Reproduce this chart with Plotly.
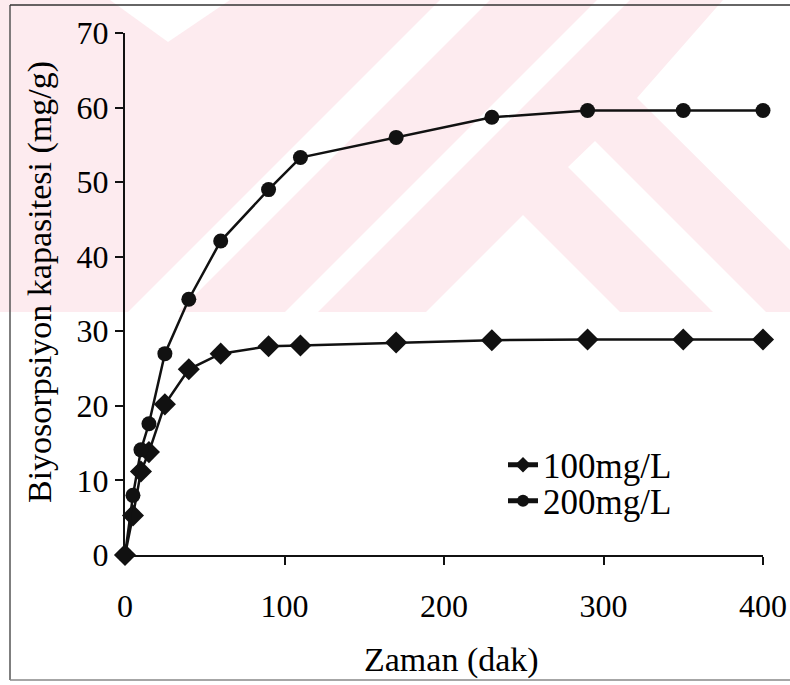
import plotly.graph_objects as go

# ---- data ----
time_min = [0, 5, 10, 15, 25, 40, 60, 90, 110, 170, 230, 290, 350, 400]
cap_100 = [0, 5.3, 11.2, 13.8, 20.2, 24.9, 27.0, 28.0, 28.1, 28.5, 28.8, 28.9, 28.9, 28.9]
cap_200 = [0, 8.0, 14.1, 17.6, 27.0, 34.3, 42.1, 49.0, 53.3, 56.0, 58.7, 59.6, 59.6, 59.6]
series_names = ["100mg/L", "200mg/L"]
x_ticks = [0, 100, 200, 300, 400]
y_ticks = [0, 10, 20, 30, 40, 50, 60, 70]
x_title = "Zaman (dak)"
y_title = "Biyosorpsiyon kapasitesi (mg/g)"

W, H = 790, 685
PLOT_L, PLOT_R, PLOT_T, PLOT_B = 125, 763, 33, 555
ML, MT = PLOT_L, PLOT_T
PW, PH = PLOT_R - PLOT_L, PLOT_B - PLOT_T
MR, MB = W - ML - PW, H - MT - PH
FONT = "Liberation Serif"
INK = "#111111"


def px(x):
    return (x - PLOT_L) / PW


def py(y):
    return (PLOT_B - y) / PH


def poly(pts, color):
    d = "M " + " L ".join(f"{px(a):.4f},{py(b):.4f}" for a, b in pts) + " Z"
    return dict(type="path", xref="paper", yref="paper", path=d,
                fillcolor=color, line=dict(width=0), layer="below")


def frame_line(x0, y0, x1, y1, color):
    return dict(type="line", xref="paper", yref="paper",
                x0=px(x0), y0=py(y0), x1=px(x1), y1=py(y1),
                line=dict(color=color, width=1.5), layer="below")


PINK = "#fdebef"
WHITE = "#ffffff"
shapes = [
    poly([(0, 0), (W, 0), (W, 312), (0, 312)], PINK),
    poly([(110, 0), (230, 0), (168, 42)], WHITE),
    poly([(128, 312), (178, 312), (490, 0), (440, 0)], WHITE),
    poly([(285, 312), (318, 312), (630, 0), (597, 0)], WHITE),
    poly([(523, 215), (426, 312), (620, 312)], WHITE),
    poly([(568, 167), (595, 141), (766, 312), (713, 312)], WHITE),
    poly([(637, 98), (723, 0), (W, 0), (W, 250)], WHITE),
    # scanned page frame (left, top, bottom)
    frame_line(10, 5, 10, 680, "#555555"),
    frame_line(10, 5, W, 5, "#333333"),
    frame_line(10, 680, W, 680, "#888888"),
]

fig = go.Figure()
fig.add_trace(go.Scatter(
    x=time_min, y=cap_100, name=series_names[0], mode="lines+markers",
    line=dict(color=INK, width=2.5),
    marker=dict(symbol="diamond", size=17, color=INK),
    cliponaxis=False, legend="legend"))
fig.add_trace(go.Scatter(
    x=time_min, y=cap_200, name=series_names[1], mode="lines+markers",
    line=dict(color=INK, width=2.5),
    marker=dict(symbol="circle", size=15, color=INK),
    cliponaxis=False, legend="legend2"))

axis_common = dict(showline=True, linecolor=INK, linewidth=2, ticks="outside",
                   ticklen=8, tickwidth=2, tickcolor=INK, showgrid=False,
                   zeroline=False, tickfont=dict(family=FONT, size=32, color="#000"))

legend_common = dict(font=dict(family=FONT, size=35, color="#000"),
                     bgcolor="rgba(0,0,0,0)", xanchor="left", yanchor="middle",
                     itemsizing="constant")

fig.update_layout(
    width=W, height=H, margin=dict(l=ML, r=MR, t=MT, b=MB, autoexpand=False),
    paper_bgcolor="white", plot_bgcolor="rgba(0,0,0,0)",
    xaxis=dict(range=[0, 400], tickvals=x_ticks, ticklabelstandoff=14, **axis_common),
    yaxis=dict(range=[0, 70], tickvals=y_ticks, ticklabelstandoff=0, **axis_common),
    showlegend=True,
    legend=dict(x=px(503), y=py(465), **legend_common),
    legend2=dict(x=px(503), y=py(501), **legend_common),
    shapes=shapes,
    annotations=[
        dict(text=x_title, xref="paper", yref="paper", x=px(451), y=py(660),
             xanchor="center", yanchor="middle", showarrow=False,
             font=dict(family=FONT, size=34, color="#000")),
        dict(text=y_title, xref="paper", yref="paper", x=px(40), y=py(282),
             xanchor="center", yanchor="middle", showarrow=False, textangle=-90,
             font=dict(family=FONT, size=34, color="#000")),
    ],
)

fig.write_html(
    "out.html",
    config={"displayModeBar": False},
    post_script="document.body.style.margin='0';document.body.style.overflow='hidden';",
)
